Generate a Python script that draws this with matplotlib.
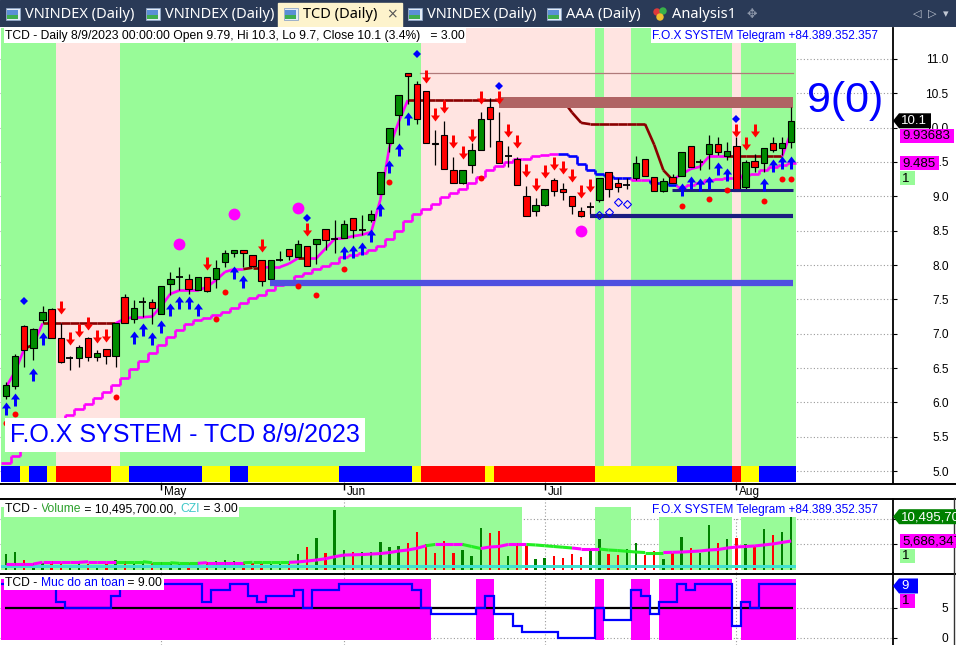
import numpy as np
import pandas as pd
import matplotlib
matplotlib.use("Agg")
import matplotlib.pyplot as plt
from matplotlib.path import Path
from matplotlib.patches import Rectangle, Polygon, Circle
from matplotlib.collections import LineCollection
import matplotlib.transforms as mtransforms

plt.rcParams['font.family'] = ['Liberation Sans', 'DejaVu Sans']

# ---- TCD daily, 6 Apr 2023 - 9 Aug 2023 (VN holidays 1-3 May) ----
holidays = ['2023-05-01', '2023-05-02', '2023-05-03']
dates = pd.bdate_range('2023-04-06', '2023-08-09')
dates = dates[~dates.isin(pd.to_datetime(holidays))]

opens = [6.10, 6.24, 7.11, 6.79, 7.20, 7.36, 6.94, 6.65, 6.65, 6.94,
         6.66, 6.77, 6.68, 7.53, 7.21, 7.46, 7.46, 7.29, 7.72, 7.82,
         7.80, 7.63, 7.82, 7.80, 8.04, 8.17, 8.22, 8.14, 8.08, 7.79,
         8.08, 8.24, 8.12, 8.27, 8.31, 8.53, 8.38, 8.40, 8.69, 8.51,
         8.66, 9.03, 9.78, 10.19, 10.79, 10.64, 10.54, 9.78, 9.89, 9.39,
         9.20, 9.46, 9.68, 10.30, 9.80, 9.59, 9.55, 9.01, 8.79, 8.88,
         9.24, 9.10, 9.01, 8.79, 8.84, 8.94, 9.35, 9.19, 9.16, 9.26,
         9.54, 9.28, 9.08, 9.28, 9.29, 9.74, 9.50, 9.62, 9.76, 9.59,
         9.73, 9.13, 9.51, 9.48, 9.78, 9.70, 9.79]
highs = [6.29, 6.70, 7.13, 7.09, 7.41, 7.38, 7.15, 6.68, 6.83, 6.95,
         6.76, 6.78, 7.15, 7.58, 7.49, 7.54, 7.51, 7.69, 7.90, 7.97,
         7.87, 7.82, 7.82, 8.07, 8.22, 8.22, 8.22, 8.14, 8.08, 8.08,
         8.21, 8.24, 8.36, 8.27, 8.38, 8.53, 8.66, 8.65, 8.69, 8.73,
         8.80, 9.35, 9.99, 10.48, 10.79, 10.68, 10.54, 9.97, 10.09, 9.57,
         9.39, 9.77, 10.23, 10.43, 10.23, 9.73, 9.57, 9.15, 8.97, 9.11,
         9.26, 9.19, 9.01, 8.84, 8.92, 9.27, 9.35, 9.27, 9.26, 9.58,
         9.54, 9.28, 9.26, 9.32, 9.65, 9.74, 9.55, 9.89, 9.87, 9.79,
         9.87, 9.53, 9.62, 9.70, 9.87, 9.87, 10.30]
lows = [6.05, 6.20, 6.52, 6.62, 7.15, 6.94, 6.58, 6.47, 6.51, 6.60,
        6.60, 6.56, 6.51, 7.15, 7.16, 7.25, 7.14, 7.29, 7.56, 7.64,
        7.58, 7.63, 7.60, 7.66, 7.97, 8.11, 7.97, 7.97, 7.69, 7.79,
        8.06, 8.08, 8.12, 7.99, 8.02, 8.22, 8.18, 8.40, 8.39, 8.43,
        8.63, 9.03, 9.65, 9.90, 10.35, 10.05, 9.78, 9.46, 9.40, 9.20,
        9.18, 9.34, 9.68, 9.72, 9.48, 9.43, 9.16, 8.71, 8.72, 8.86,
        9.00, 8.94, 8.75, 8.70, 8.75, 8.92, 8.99, 9.07, 9.10, 9.24,
        9.30, 9.08, 9.06, 9.20, 9.29, 9.42, 9.38, 9.40, 9.60, 9.53,
        9.08, 9.11, 9.36, 9.36, 9.65, 9.60, 9.70]
closes = [6.25, 6.68, 6.76, 7.07, 7.31, 6.94, 6.59, 6.65, 6.80, 6.66,
          6.72, 6.68, 7.15, 7.15, 7.38, 7.46, 7.37, 7.69, 7.80, 7.82,
          7.65, 7.82, 7.62, 7.96, 8.17, 8.22, 8.17, 7.99, 7.76, 8.08,
          8.08, 8.13, 8.31, 7.99, 8.38, 8.37, 8.38, 8.59, 8.51, 8.51,
          8.74, 9.35, 9.99, 10.48, 10.75, 10.13, 9.78, 9.76, 9.40, 9.20,
          9.39, 9.67, 10.13, 10.13, 9.48, 9.59, 9.17, 8.71, 8.88, 9.11,
          9.08, 9.07, 8.86, 8.72, 8.84, 9.27, 9.11, 9.14, 9.16, 9.48,
          9.30, 9.08, 9.22, 9.20, 9.65, 9.42, 9.50, 9.76, 9.64, 9.66,
          9.08, 9.50, 9.43, 9.70, 9.67, 9.77, 10.10]

# volume in millions of shares and its moving average
volume = [3.11, 3.51, 1.92, 1.39, 1.39, 1.79, 1.26, 0.93, 1.26, 1.07,
          0.87, 1.07, 1.92, 1.72, 1.39, 1.26, 1.26, 1.59, 1.26, 1.13,
          1.26, 1.26, 1.45, 1.72, 1.92, 1.72, 1.45, 1.26, 1.26, 1.07,
          1.07, 1.26, 3.11, 4.56, 6.35, 3.38, 11.82, 3.91, 3.57, 3.57,
          3.57, 5.55, 4.56, 4.63, 5.35, 7.53, 5.09, 3.24, 5.76, 3.38,
          3.91, 2.78, 8.33, 7.20, 7.66, 2.78, 5.35, 4.69, 2.12, 2.38,
          2.78, 2.38, 3.11, 2.45, 4.10, 6.08, 3.11, 2.92, 4.10, 5.35,
          2.92, 3.70, 2.12, 3.24, 6.54, 4.36, 3.24, 8.85, 5.35, 6.08,
          6.35, 5.09, 4.69, 8.06, 6.88, 7.40, 10.4957]
vol_ma = [1.13, 1.13, 1.13, 1.13, 1.46, 1.46, 1.46, 1.46, 1.46, 1.59,
          1.59, 1.59, 1.59, 1.59, 1.59, 1.59, 1.39, 1.39, 1.39, 1.26,
          1.26, 1.26, 1.39, 1.39, 1.39, 1.39, 1.39, 1.46, 1.46, 1.46,
          1.46, 1.46, 1.55, 1.72, 1.92, 2.18, 2.58, 2.90, 2.95, 3.00,
          3.10, 3.20, 3.40, 3.70, 3.90, 4.24, 4.75, 5.00, 5.00, 5.00,
          5.00, 4.60, 4.20, 4.50, 4.60, 5.00, 5.00, 5.00, 4.90, 4.75,
          4.60, 4.45, 4.30, 4.10, 4.10, 4.10, 3.90, 3.80, 3.65, 3.50,
          3.40, 3.40, 3.40, 3.45, 3.50, 3.60, 3.70, 3.90, 4.00, 4.30,
          4.50, 4.60, 4.70, 4.90, 5.10, 5.40, 5.686347]
vol_ma_runs = [(1, 13), (0, 9), (1, 5), (0, 5), (1, 15), (0, 1), (1, 3), (0, 2),
               (1, 5), (0, 5), (1, 3), (0, 7), (1, 14)]          # 1 = rising (magenta)
vol_bg_runs = [(12.4, 57), (0, 8), (12.4, 4), (0, 3), (10.4, 8), (0, 1), (10.4, 6)]

# trailing stops
fast_stop = [6.22, 6.45, 6.78, 6.84, 7.15, 7.15, 7.15, 7.15, 7.15, 7.15,
             7.15, 7.15, 7.15, 7.22, 7.24, 7.24, 7.25, 7.40, 7.58, 7.63,
             7.63, 7.63, 7.68, 7.78, 7.90, 7.94, 7.94, 7.96, 7.96, 7.97,
             7.97, 8.02, 8.10, 8.10, 8.10, 8.24, 8.38, 8.39, 8.42, 8.44,
             8.48, 8.95, 9.72, 10.08, 10.40, 10.40, 10.40, 10.40, 10.40, 10.40,
             10.40, 10.40, 10.40, 10.40, 10.40, 10.40, 10.40, 10.40, 10.40, 10.40,
             10.40, 10.40, 10.22, 10.07, 10.05, 10.05, 10.05, 10.05, 10.05, 10.05,
             10.05, 9.75, 9.38, 9.24, 9.32, 9.40, 9.43, 9.58, 9.58, 9.58,
             9.58, 9.58, 9.58, 9.58, 9.58, 9.58, 9.93683]
fast_runs = [(1, 3), (0, 1), (1, 1), (0, 8), (1, 14), (0, 2), (1, 4), (0, 1),
             (1, 11), (0, 29), (1, 6), (0, 6), (1, 1)]            # 1 = long
slow_stop = [5.12, 5.22, 5.32, 5.42, 5.52, 5.62, 5.72, 5.81, 5.90, 5.98,
             6.07, 6.15, 6.25, 6.36, 6.48, 6.60, 6.72, 6.83, 6.95, 7.06,
             7.14, 7.20, 7.23, 7.27, 7.32, 7.38, 7.45, 7.52, 7.57, 7.64,
             7.71, 7.77, 7.84, 7.89, 7.94, 7.99, 8.03, 8.11, 8.14, 8.18,
             8.22, 8.27, 8.38, 8.50, 8.64, 8.75, 8.82, 8.89, 8.99, 9.05,
             9.11, 9.20, 9.28, 9.38, 9.44, 9.50, 9.54, 9.55, 9.58, 9.60,
             9.61, 9.61, 9.58, 9.47, 9.38, 9.32, 9.30, 9.26, 9.26, 9.24,
             9.24, 9.20, 9.20, 9.16, 9.14, 9.16, 9.20, 9.24, 9.25, 9.27,
             9.27, 9.31, 9.33, 9.38, 9.43, 9.45, 9.485]
slow_runs = [(1, 61), (0, 8), (1, 2), (0, 3), (1, 13)]

# chart background, ribbon and "muc do an toan" (safety level)
bg_runs = [('G', 6), ('P', 7), ('G', 33), ('P', 19), ('G', 1), ('P', 3), ('G', 11), ('P', 1), ('G', 6)]
ribbon_runs = [('B', 2), ('Y', 1), ('B', 2), ('Y', 1), ('R', 6), ('Y', 2), ('B', 8), ('Y', 3),
               ('B', 2), ('Y', 10), ('B', 8), ('Y', 1), ('R', 7), ('Y', 1), ('R', 11), ('Y', 9),
               ('B', 6), ('R', 1), ('Y', 2), ('B', 4)]
safety_runs = [(9, 6), (6, 1), (5, 5), (7, 1), (9, 9), (6, 1), (8, 2), (9, 2), (7, 1), (6, 1),
               (7, 3), (8, 1), (5, 1), (8, 3), (9, 8), (8, 1), (5, 1), (4, 5), (5, 1), (7, 1),
               (4, 2), (2, 1), (1, 4), (0, 4), (5, 1), (3, 3), (8, 1), (7, 1), (4, 1), (6, 2),
               (9, 1), (8, 1), (9, 4), (2, 1), (6, 1), (5, 1), (9, 4)]

# signals
buy_idx = [0, 1, 3, 4, 14, 15, 16, 17, 18, 19, 20, 21, 25, 26, 37, 38, 39, 40, 41, 42, 43, 44,
           74, 75, 76, 77, 78, 79, 83, 84, 85, 86]
buy_px = [6.00, 6.14, 6.50, 7.02, 7.04, 7.15, 7.02, 7.20, 7.45, 7.55, 7.55, 7.45, 7.99, 7.85,
          8.27, 8.29, 8.34, 8.53, 8.90, 9.53, 9.78, 10.23, 9.19, 9.29, 9.26, 9.29, 9.50, 9.41,
          9.26, 9.54, 9.58, 9.58]
sell_idx = [6, 7, 8, 9, 10, 11, 22, 28, 33, 46, 47, 48, 49, 50, 51, 52, 54, 55, 56, 57, 58, 59,
            60, 61, 62, 63, 64, 80, 81, 82]
sell_px = [7.28, 6.83, 6.95, 7.06, 6.87, 6.88, 7.93, 8.19, 8.42, 10.65, 10.10, 10.21, 9.70, 9.54,
           9.79, 10.35, 10.35, 9.86, 9.71, 9.28, 9.08, 9.26, 9.38, 9.33, 9.21, 8.97, 9.06, 9.87,
           9.68, 9.87]
dot_idx = [0, 1, 12, 23, 24, 32, 34, 37, 42, 52, 74, 77, 79, 83, 85, 86]
dot_px = [5.70, 5.83, 6.08, 7.21, 7.60, 7.69, 7.56, 7.94, 9.21, 9.26, 8.86, 8.96, 9.09, 8.93, 9.25, 9.25]
dia_idx = [2, 33, 45, 54, 80]
dia_px = [7.47, 8.69, 11.07, 10.61, 10.12]
hollow_idx = [65, 66, 67, 68]
hollow_px = [8.73, 8.77, 8.92, 8.89]
circ_idx = [19, 25, 32, 63]
circ_px = [8.31, 8.74, 8.83, 8.49]

# support / resistance levels (price, first bar)
sup_px = [7.735, 8.71, 9.09]
sup_from = [28.9, 64.0, 72.9]
res_zone = (10.29, 10.45)
res_from = 54.0
top_line_px = 10.80
top_line_from = 45.3


def expand(runs):
    out = []
    for v, n in runs:
        out += [v] * n
    return out


W, H = 956, 645
n = len(closes)
idx = np.arange(n)
x_end = n - 0.8


def rect(x0, y0, x1, y1):
    return [x0 / W, 1 - y1 / H, (x1 - x0) / W, (y1 - y0) / H]


def ftext(x, y, s, **kw):
    return fig.text(x / W, 1 - y / H, s, **kw)


def multi_text(a, x, y, pieces, size):
    # coloured pieces side by side; later pieces sit lower so their white box
    # never covers the end of the piece before them
    s0, c0 = pieces[0]
    t = a.text(x / W, 1 - y / H, s0, color=c0, fontsize=size, va='center',
               transform=fig.transFigure, zorder=7,
               bbox=dict(facecolor='white', edgecolor='none', pad=1))
    for k, (s, col) in enumerate(pieces[1:]):
        t = a.annotate(s, xy=(1, 0), xycoords=t, va='bottom', ha='left', color=col,
                       fontsize=size, annotation_clip=False, zorder=6.9 - 0.1 * k,
                       bbox=dict(facecolor='white', edgecolor='none', pad=1))


fig = plt.figure(figsize=(W / 100, H / 100), dpi=100)
fig.patch.set_facecolor('white')

ax = fig.add_axes(rect(0, 28, 893, 483))
axv = fig.add_axes(rect(0, 499, 893, 573))
axs = fig.add_axes(rect(0, 573, 893, 645))

xlim = (-0.657, 97.15)
month_pos = [i for i in range(1, n) if dates[i].month != dates[i - 1].month]
grid_kw = dict(color='#9a9a9a', linestyle=(0, (1, 2)), linewidth=0.8)
for a in (ax, axv, axs):
    a.set_xlim(*xlim)
    a.set_facecolor('white')
    a.set_axisbelow(True)
    a.set_xticks(month_pos)
    a.grid(True, **grid_kw)
    for s in ('left', 'top', 'bottom'):
        a.spines[s].set_visible(False)
    a.spines['right'].set_linewidth(1.3)
    a.yaxis.tick_right()
    a.tick_params(axis='y', direction='out', length=3, labelsize=8.6, pad=37)
    a.tick_params(axis='x', length=0, labelbottom=False)

# ---------------- price panel ----------------
ax.set_ylim(4.826, 11.451)
ax.set_yticks(np.arange(5.0, 11.01, 0.5))
ax.set_yticklabels([f"{v:.1f}" for v in np.arange(5.0, 11.01, 0.5)])
for lab in ax.get_yticklabels():
    lab.set_horizontalalignment('right')

ax.set_xticklabels([dates[i].strftime('%b') for i in month_pos])
ax.tick_params(axis='x', length=5, direction='out', width=1, labelbottom=True,
               labelsize=8.5, pad=-3.0)
shift = mtransforms.ScaledTranslation(3 / 100, 0, fig.dpi_scale_trans)
for lab in ax.get_xticklabels():
    lab.set_horizontalalignment('left')
    lab.set_transform(lab.get_transform() + shift)

bg_col = {'G': '#98fb98', 'P': '#ffe4e1'}
rib_col = {'B': '#0000ff', 'Y': '#ffff00', 'R': '#ff0000'}
start = 0
for c, k in bg_runs:
    ax.axvspan(start - 0.5, start + k - 0.5, ymin=0.037, ymax=1, color=bg_col[c], lw=0, zorder=0.8)
    start += k
start = 0
for c, k in ribbon_runs:
    ax.axvspan(start - 0.5, start + k - 0.5, ymin=0.002, ymax=0.037, color=rib_col[c], lw=0, zorder=0.9)
    start += k

# levels
ax.plot([top_line_from, x_end], [top_line_px] * 2, color='#b07a7a', lw=0.9, zorder=2)
ax.fill_between([res_from, x_end], res_zone[0], res_zone[1], color='#b06464', lw=0, zorder=2.8)
ax.hlines(sup_px[0], sup_from[0], x_end, color='#4f4fe0', lw=4.5, zorder=3.5)
ax.hlines(sup_px[1], sup_from[1], x_end, color='#1c1c80', lw=3, zorder=3.5)
ax.hlines(sup_px[2], sup_from[2], x_end, color='#1c1c80', lw=2.2, zorder=3.5)

# slow stop (step line, magenta when long, blue otherwise)
slow_long = expand(slow_runs)
segs, cols = [], []
for i in range(n):
    segs.append([(i - 0.5, slow_stop[i]), (i + 0.5, slow_stop[i])])
    cols.append('#ff00ff' if slow_long[i] else '#0000ff')
    if i < n - 1:
        segs.append([(i + 0.5, slow_stop[i]), (i + 0.5, slow_stop[i + 1])])
        cols.append('#ff00ff' if slow_long[i + 1] else '#0000ff')
ax.add_collection(LineCollection(segs, colors=cols, linewidths=1.9, zorder=2.5))

# fast stop (magenta when long, dark red when short)
fast_long = expand(fast_runs)
segs = [[(i, fast_stop[i]), (i + 1, fast_stop[i + 1])] for i in range(n - 1)]
cols = ['#ff00ff' if fast_long[i + 1] else '#8b0000' for i in range(n - 1)]
ax.add_collection(LineCollection(segs, colors=cols, linewidths=1.9, zorder=2.6))

# candles
o, h, l, c = map(np.array, (opens, highs, lows, closes))
ax.vlines(idx, l, h, color='black', lw=0.9, zorder=3)
body = np.abs(c - o)
up = c >= o
solid = body > 0.005
ax.bar(idx[solid], body[solid], bottom=np.minimum(o, c)[solid], width=0.7,
       color=np.where(up, '#008c00', '#ff0000')[solid], edgecolor='black', linewidth=0.8, zorder=3.1)
ax.hlines(c[~solid], idx[~solid] - 0.38, idx[~solid] + 0.38, color='black', lw=1.3, zorder=3.1)

# signal markers
av = [(0, 0), (-4.5, -6), (-1.5, -6), (-1.5, -13), (1.5, -13), (1.5, -6), (4.5, -6), (0, 0)]
codes = [Path.MOVETO] + [Path.LINETO] * 6 + [Path.CLOSEPOLY]
UP = Path(av, codes)
DOWN = Path([(x, -y) for x, y in av], codes)
ms_arrow = 2 * 13 * 0.72
ax.plot(buy_idx, buy_px, ls='none', marker=UP, ms=ms_arrow, color='#0000ff', mew=0, zorder=4)
ax.plot(sell_idx, sell_px, ls='none', marker=DOWN, ms=ms_arrow, color='#ff0000', mew=0, zorder=4)
ax.plot(dot_idx, dot_px, ls='none', marker='o', ms=4.3, color='#ff0000', mew=0, zorder=4)
ax.plot(dia_idx, dia_px, ls='none', marker='D', ms=4, color='#0000ff', mew=0, zorder=4)
ax.plot(hollow_idx, hollow_px, ls='none', marker='D', ms=4, mfc='none', mec='#0000ff', mew=0.8, zorder=4)
ax.plot(circ_idx, circ_px, ls='none', marker='o', ms=8.5, color='#ff00ff', mew=0, zorder=4)

last = dates[-1]
pct = (closes[-1] / closes[-2] - 1) * 100
head = (f"TCD - Daily {last.month}/{last.day}/{last.year} 00:00:00 Open {opens[-1]:g}, "
        f"Hi {highs[-1]:g}, Lo {lows[-1]:g}, Close {closes[-1]:g} ({pct:.1f}%)   = 3.00")
bb = dict(facecolor='white', edgecolor='none', pad=1)
ftext(5, 35.5, head, fontsize=8.7, va='center', bbox=bb, zorder=6)
ftext(652, 35.5, "F.O.X SYSTEM Telegram +84.389.352.357", color='#0000ff', fontsize=8.6,
      va='center', bbox=bb, zorder=6)
ftext(10, 435, "F.O.X SYSTEM - TCD 8/9/2023", color='#0000ff', fontsize=18, va='center',
      bbox=dict(facecolor='white', edgecolor='none', pad=3.5), zorder=6)
ftext(845, 101, "9(0)", color='#0000ff', fontsize=31, va='center', ha='center', zorder=6)


def ypx(a, v):
    return H - a.transData.transform((0, v))[1]


def tag(y, s, fc, tc, x0, x1, pointer=False, h=14, size=9.5):
    if pointer:
        pts = [(x0, y), (x0 + 6, y - h / 2), (x1, y - h / 2), (x1, y + h / 2), (x0 + 6, y + h / 2)]
        tx = x0 + 8
    else:
        pts = [(x0, y - h / 2), (x1, y - h / 2), (x1, y + h / 2), (x0, y + h / 2)]
        tx = x0 + 2
    fig.add_artist(Polygon([(px / W, 1 - py / H) for px, py in pts], closed=True,
                           facecolor=fc, edgecolor='none', transform=fig.transFigure, zorder=5))
    ftext(tx, y + 0.5, s, color=tc, fontsize=size, va='center', ha='left', zorder=6)


tag(ypx(ax, closes[-1]), f"{closes[-1]:g}", 'black', 'white', 893, 931, pointer=True, h=15)
tag(ypx(ax, fast_stop[-1]) + 4, f"{fast_stop[-1]:g}", '#ff00ff', 'black', 900, 954)
tag(ypx(ax, slow_stop[-1]), f"{slow_stop[-1]:g}", '#ff00ff', 'black', 900, 939)
tag(ypx(ax, slow_stop[-1]) + 15, "1", '#98fb98', 'black', 900, 915)

# ---------------- volume panel ----------------
axv.set_ylim(-0.65, 14.0)
axv.set_yticks([5, 10])
axv.tick_params(axis='y', labelright=False)
start = 0
for hgt, k in vol_bg_runs:
    if hgt > 0:
        axv.bar(start - 0.5, hgt, width=k, align='edge', color='#98fb98', lw=0, zorder=0.8)
    start += k
axv.bar(idx, volume, width=0.26, color=np.where(up, '#008000', '#ff0000'), lw=0, zorder=2)
axv.fill_between([-0.5, n - 0.5], 0.33, 0.93, color='#40e0d0', lw=0, zorder=2.5)
ma_up = expand(vol_ma_runs)
segs = [[(i, vol_ma[i]), (i + 1, vol_ma[i + 1])] for i in range(n - 1)]
cols = ['#ff00ff' if ma_up[i + 1] else '#22ee22' for i in range(n - 1)]
axv.add_collection(LineCollection(segs, colors=cols, linewidths=2.2, zorder=3))

multi_text(axv, 5, 509.5, [("TCD - ", 'black'), ("Volume", '#2ca02c'),
                           (f" = {volume[-1] * 1e6:,.2f}, ", 'black'),
                           ("CZI", '#40c8c8'), (" = 3.00", 'black')], 8.7)
ftext(652, 509.5, "F.O.X SYSTEM Telegram +84.389.352.357", color='#0000ff', fontsize=8.6,
      va='center', bbox=bb, zorder=6)
tag(ypx(axv, volume[-1]), f"{volume[-1] * 1e6:,.0f}", '#008000', 'white', 893, 960, pointer=True, h=15)
tag(ypx(axv, vol_ma[-1]), f"{vol_ma[-1] * 1e6:,.0f}", '#ff00ff', 'black', 900, 960)
tag(ypx(axv, vol_ma[-1]) + 15, "1", '#98fb98', 'black', 900, 915)

# ---------------- safety panel ----------------
safety = expand(safety_runs)
axs.set_ylim(-1.17, 10.83)
axs.set_yticks([0, 5])
axs.set_yticklabels(['0', '5'])
for lab in axs.get_yticklabels():
    lab.set_horizontalalignment('right')
safe = np.array(safety) >= 5
i = 0
while i < n:
    if safe[i]:
        j = i
        while j < n and safe[j]:
            j += 1
        axs.bar(i - 0.5, 10.15, bottom=-0.4, width=j - i, align='edge', color='#ff00ff', lw=0, zorder=0.8)
        i = j
    else:
        i += 1
axs.hlines(5, -0.1, x_end, color='black', lw=1.6, zorder=2)
axs.stairs(safety, np.arange(n + 1) - 0.5, baseline=None, color='#0000ff', lw=1.6, zorder=3)
multi_text(axs, 5, 583, [("TCD - ", 'black'), ("Muc do an toan", '#0000ff'),
                         (f" = {safety[-1]:.2f}", 'black')], 8.7)
tag(ypx(axs, safety[-1]) + 2, f"{safety[-1]}", '#0000ff', 'white', 893, 918, pointer=True, h=15)
tag(ypx(axs, safety[-1]) + 17, "1", '#ff00ff', 'black', 900, 915)

# panel separators
for y in (483.5, 498.5, 573.5):
    fig.add_artist(plt.Line2D([0, 1], [1 - y / H] * 2, color='black', lw=1.4, transform=fig.transFigure))
fig.add_artist(plt.Line2D([953.5 / W] * 2, [0, 1 - 498 / H], color='#333333', lw=1, transform=fig.transFigure))

# ---------------- tab strip ----------------
tb = fig.add_axes([0, 1 - 27 / H, 1, 27 / H])
tb.set_xlim(0, W)
tb.set_ylim(27, 0)
tb.axis('off')
tb.add_patch(Rectangle((0, 0), W, 27, color='#2a3a57'))
tb.add_patch(Rectangle((278, 3), 124, 24, color='#fdf3cc'))
tabs = [(6, 'VNINDEX (Daily)'), (146, 'VNINDEX (Daily)'), (284, 'TCD (Daily)'),
        (408, 'VNINDEX (Daily)'), (547, 'AAA (Daily)')]
for x, s in tabs:
    tb.add_patch(Rectangle((x, 8), 14, 12, facecolor='#e4ecf7', edgecolor='#8fa6c6', lw=0.6))
    tb.add_patch(Rectangle((x + 1.5, 9.5), 11, 5, facecolor='#5b8fd6', lw=0))
    tb.add_patch(Rectangle((x + 1.5, 14.5), 11, 4, facecolor='#3fae4f', lw=0))
    active = s.startswith('TCD')
    tb.text(x + 19, 14.5, s, color='black' if active else 'white', fontsize=10.5,
            fontweight='bold' if active else 'normal', va='center', family='Noto Sans')
tb.text(392, 14, "\u00d7", color='#555555', fontsize=10, va='center', ha='center', family='DejaVu Sans')
tb.add_patch(Circle((657, 12), 3, color='#e03a3a'))
tb.add_patch(Circle((663, 11), 3, color='#39b24a'))
tb.add_patch(Circle((660, 17), 3, color='#f2c12e'))
tb.text(672, 14.5, "Analysis1", color='white', fontsize=10.5, va='center', family='Noto Sans')
tb.text(752, 14, "\u2725", color='#8d97aa', fontsize=9, va='center', ha='center', family='DejaVu Sans')
for x, s in ((917, "\u25c1"), (932, "\u25b7"), (946, "\u25be")):
    tb.text(x, 14, s, color='#c2c8d4', fontsize=8, va='center', ha='center', family='DejaVu Sans')

fig.savefig("out.png", dpi=100)
